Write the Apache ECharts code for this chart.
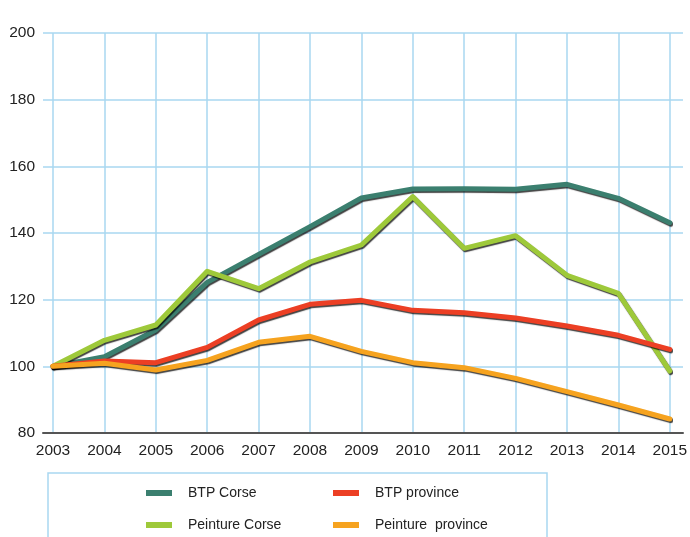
<!DOCTYPE html>
<html>
<head>
<meta charset="utf-8">
<script src="https://cdn.jsdelivr.net/npm/echarts@6/dist/echarts.min.js"></script>
<style>
  html, body { margin: 0; padding: 0; background: #fff; }
  #chart { width: 690px; height: 537px; }
</style>
</head>
<body>
<div id="chart"></div>
<script>
// années et indices (base 100 en 2003)
const years = ['2003', '2004', '2005', '2006', '2007', '2008', '2009', '2010', '2011', '2012', '2013', '2014', '2015'];
const btpCorse = [100, 102.9, 110.9, 125.2, 133.6, 141.9, 150.5, 153.2, 153.3, 153.1, 154.6, 150.4, 143.1];
const peintureCorse = [100, 107.8, 112.4, 128.5, 123.3, 131.3, 136.4, 150.9, 135.4, 139.2, 127.3, 121.9, 98.6];
const btpProvince = [100, 101.6, 101.1, 105.7, 113.9, 118.6, 119.8, 116.8, 116.1, 114.5, 112.1, 109.3, 105.1];
const peintureProvince = [100, 100.9, 98.9, 101.8, 107.2, 109.0, 104.5, 101.1, 99.6, 96.4, 92.4, 88.4, 84.2];
const yTicks = [80, 200, 20]; // min, max, pas

const FONT = "'Liberation Sans', Arial, sans-serif";
const GRID_COLOR = '#a9d7f1';

const chart = echarts.init(document.getElementById('chart'));

function makeSeries(name, data, color) {
    return {
        name: name,
        type: 'line',
        xAxisIndex: 1,
        yAxisIndex: 1,
        data: data,
        symbol: 'none',
        lineStyle: {
            color: color,
            width: 5,
            cap: 'round',
            join: 'round',
            shadowColor: 'rgba(0,0,0,0.75)',
            shadowBlur: 1,
            shadowOffsetX: 1,
            shadowOffsetY: 1.5
        },
        itemStyle: { color: color },
        z: 3
    };
}

function makeLegend(name, left, top) {
    return {
        data: [name],
        left: left,
        top: top,
        icon: 'rect',
        itemWidth: 26,
        itemHeight: 6,
        padding: 0,
        textStyle: { fontFamily: FONT, fontSize: 14, color: '#222', padding: [0, 0, 0, 11] }
    };
}

const option = {
    animation: false,
    backgroundColor: '#fff',
    grid: [
        { left: 43, right: 7, top: 33, bottom: 104 },
        { left: 53, right: 20, top: 33, bottom: 104 }
    ],
    xAxis: [
        {
            type: 'value', gridIndex: 0, min: 0, max: 1,
            axisLine: { show: true, lineStyle: { color: '#555', width: 2 } },
            axisTick: { show: false }, axisLabel: { show: false }, splitLine: { show: false }
        },
        {
            type: 'category', gridIndex: 1, data: years, boundaryGap: false,
            axisLine: { show: false },
            axisTick: { show: false },
            axisLabel: { fontFamily: FONT, fontSize: 15.5, color: '#222', margin: 10 },
            splitLine: { show: true, lineStyle: { color: GRID_COLOR, width: 1.5 } }
        }
    ],
    yAxis: [
        {
            type: 'value', gridIndex: 0, min: yTicks[0], max: yTicks[1], interval: yTicks[2],
            axisLine: { show: false }, axisTick: { show: false },
            axisLabel: { fontFamily: FONT, fontSize: 15.5, color: '#222', margin: 8 },
            splitLine: { lineStyle: { color: GRID_COLOR, width: 1.5 } }
        },
        {
            type: 'value', gridIndex: 1, min: yTicks[0], max: yTicks[1], interval: yTicks[2],
            show: false, splitLine: { show: false }
        }
    ],
    legend: [
        makeLegend('BTP Corse', 146, 486),
        makeLegend('BTP province', 333, 486),
        makeLegend('Peinture Corse', 146, 518),
        makeLegend('Peinture  province', 333, 518)
    ],
    graphic: [{
        type: 'rect',
        shape: { x: 48, y: 473, width: 499, height: 90 },
        style: { fill: 'none', stroke: GRID_COLOR, lineWidth: 1.5 },
        z: 0
    }],
    series: [
        makeSeries('BTP Corse', btpCorse, '#3b7f6f'),
        makeSeries('Peinture Corse', peintureCorse, '#9ec93a'),
        makeSeries('BTP province', btpProvince, '#ec3f24'),
        makeSeries('Peinture  province', peintureProvince, '#f6a31f')
    ]
};

chart.setOption(option);
</script>
</body>
</html>
